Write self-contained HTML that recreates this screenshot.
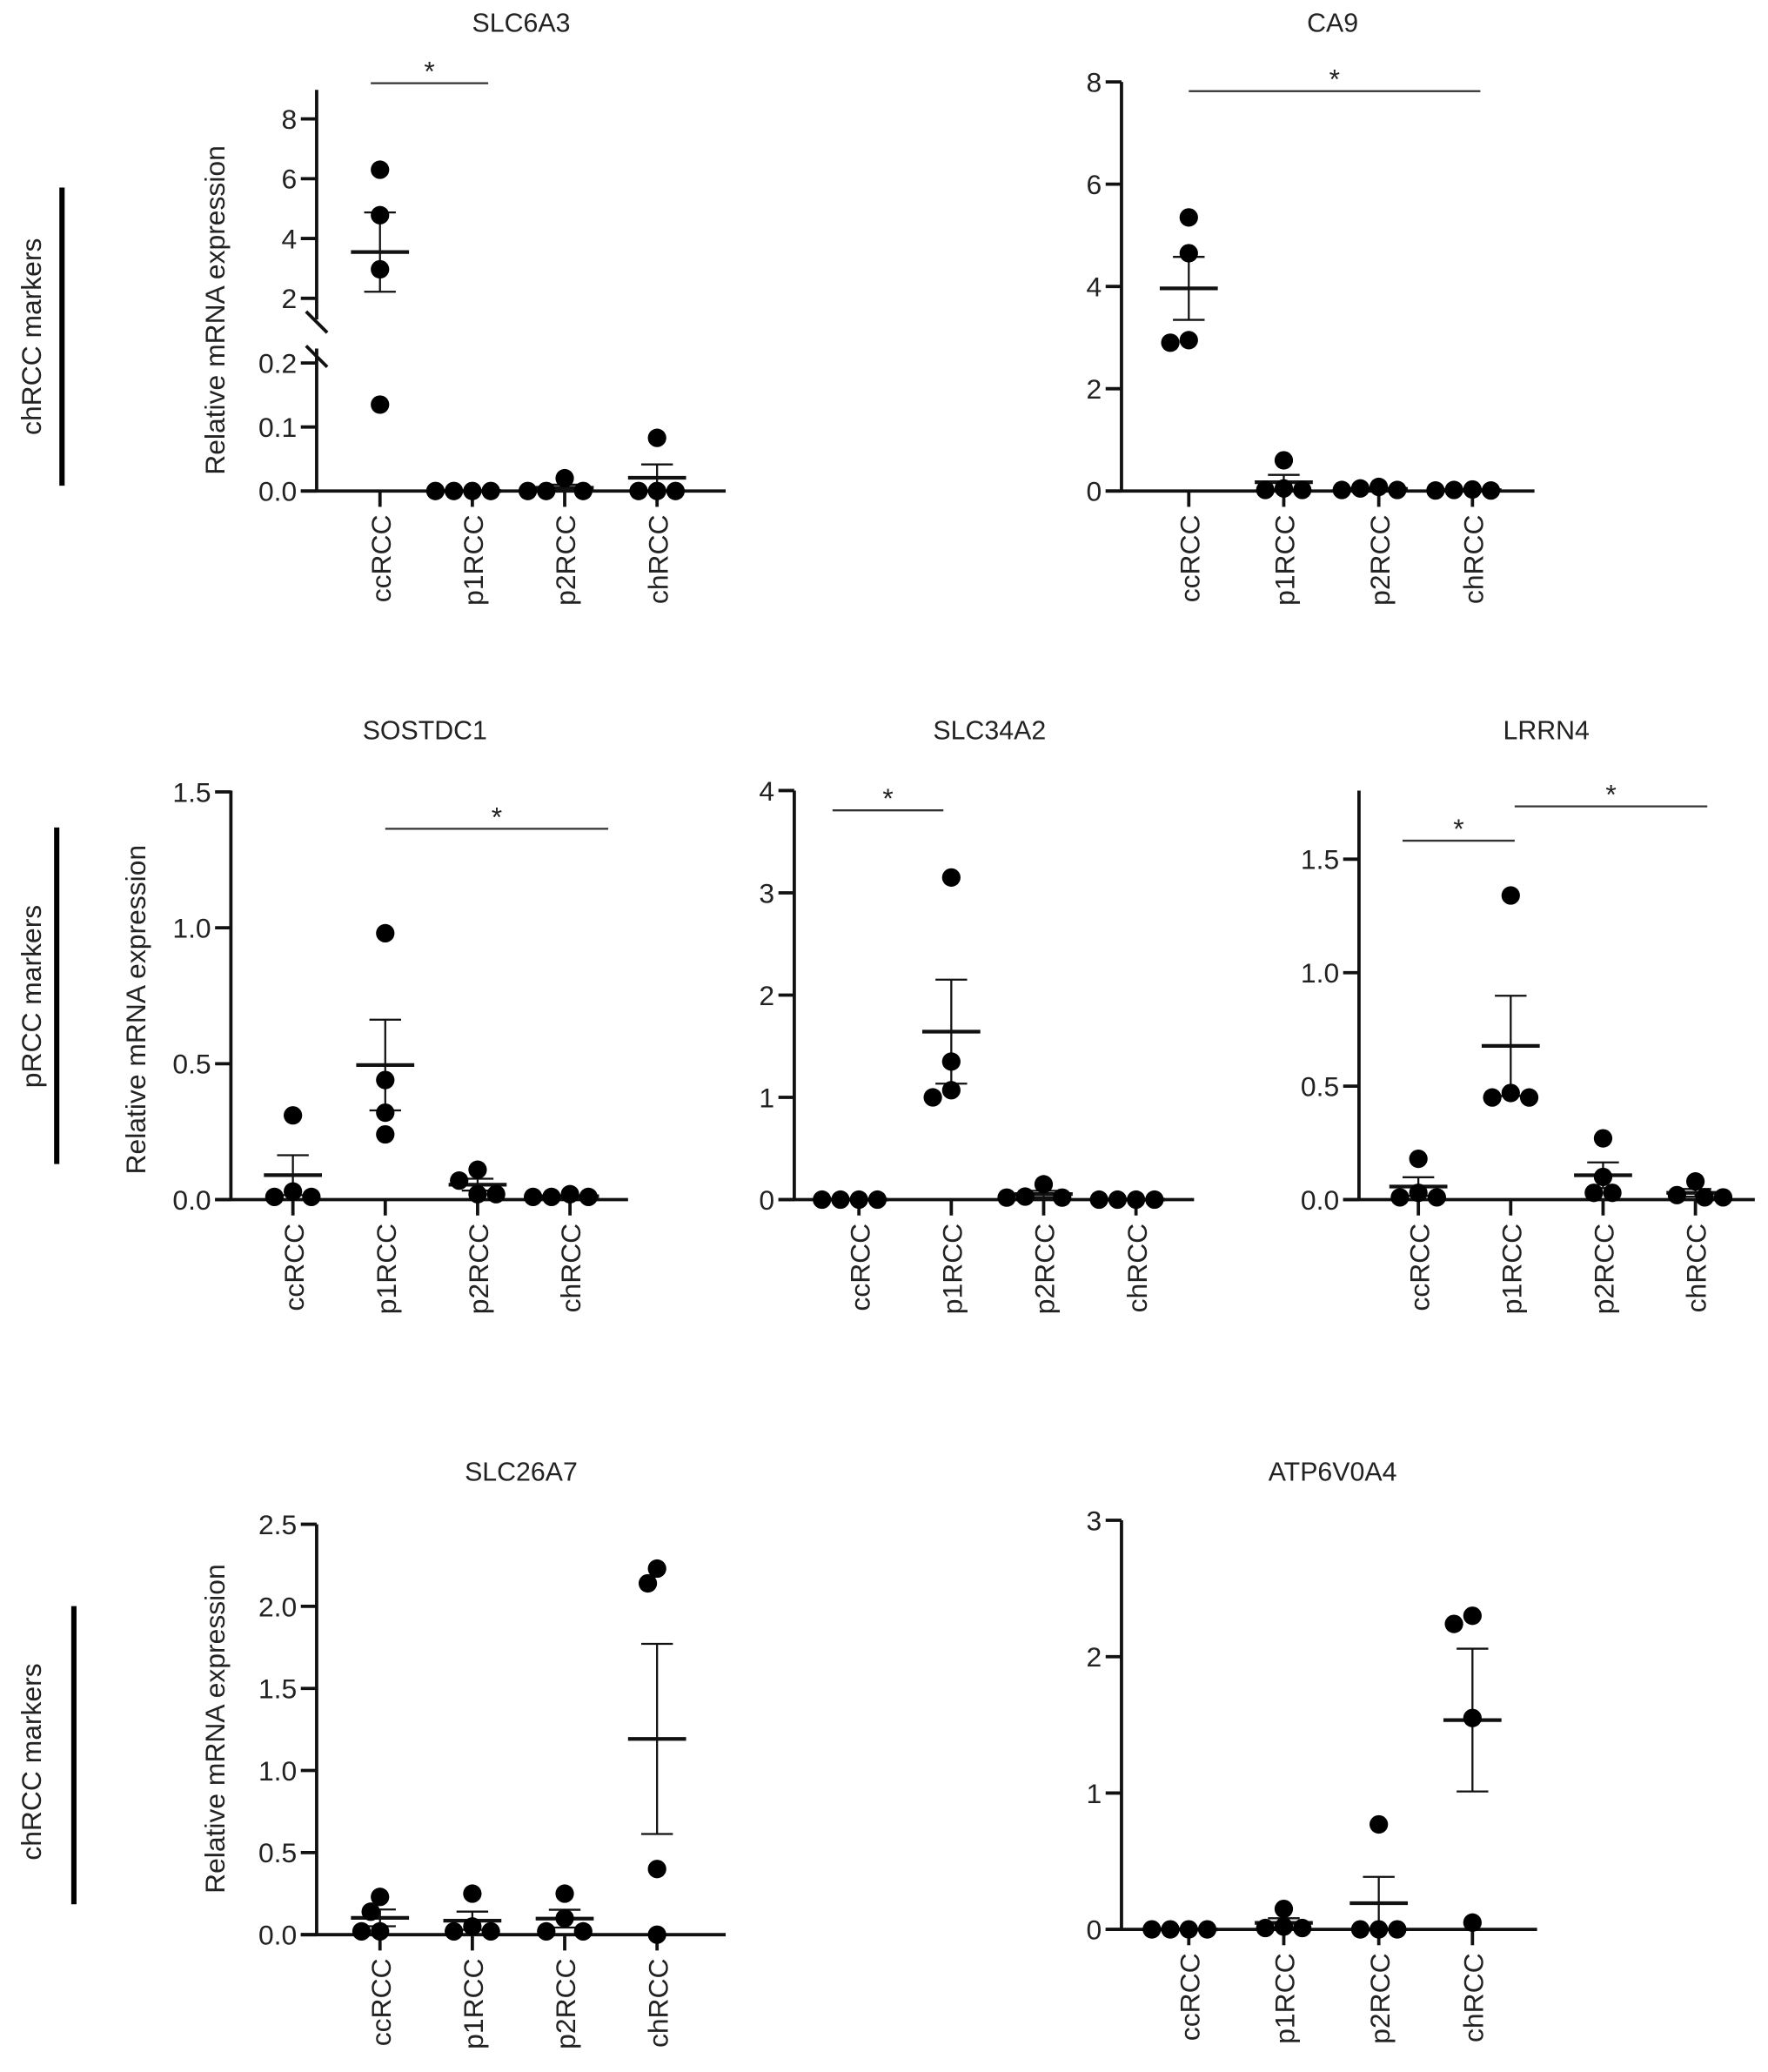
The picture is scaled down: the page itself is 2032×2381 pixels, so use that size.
<!DOCTYPE html>
<html><head><meta charset="utf-8"><style>
html,body{margin:0;padding:0;background:#fff}
svg{display:block}
text{font-family:"Liberation Sans",Arial,sans-serif;fill:#222}
</style></head><body>
<svg id="fig" width="2032" height="2381" viewBox="0 0 1340 1570" xmlns="http://www.w3.org/2000/svg"></svg>
<script>
const categories = ["ccRCC","p1RCC","p2RCC","chRCC"];
const slc6a3Vals = [[6.3,4.78,2.97,0.135],[0,0,0,0],[0.02,0,0,0],[0.083,0,0,0]];
const ca9Vals = [[5.35,4.65,2.9,2.95],[0.6,0.05,0.02,0.02],[0.08,0.05,0.02,0.02],[0.03,0.02,0.01,0.01]];
const sostdc1Vals = [[0.31,0.03,0.01,0.01],[0.98,0.44,0.32,0.24],[0.11,0.07,0.02,0.02],[0.02,0.01,0.01,0.01]];
const slc34a2Vals = [[0,0,0,0],[3.15,1.35,1.07,1.0],[0.15,0.03,0.02,0.02],[0,0,0,0]];
const lrrn4Vals = [[0.18,0.03,0.01,0.01],[1.34,0.47,0.45,0.45],[0.27,0.1,0.03,0.03],[0.08,0.02,0.01,0.01]];
const slc26a7Vals = [[0.23,0.14,0.02,0.02],[0.25,0.05,0.02,0.02],[0.25,0.1,0.02,0.02],[2.23,2.14,0.4,0.0]];
const atp6v0a4Vals = [[0,0,0,0],[0.15,0.02,0.01,0.01],[0.77,0,0,0],[2.3,2.24,1.55,0.05]];
const ca9Ticks = [0,2,4,6,8];
const sostdc1Ticks = [0,0.5,1.0,1.5];
const slc34a2Ticks = [0,1,2,3,4];
const lrrn4Ticks = [0,0.5,1.0,1.5];
const slc26a7Ticks = [0,0.5,1.0,1.5,2.0,2.5];
const atp6v0a4Ticks = [0,1,2,3];

const NS="http://www.w3.org/2000/svg";
const svg=document.getElementById('fig');
function el(tag,attrs,parent,txt){const e=document.createElementNS(NS,tag);for(const k in attrs)e.setAttribute(k,attrs[k]);if(txt!==undefined)e.textContent=txt;(parent||svg).appendChild(e);return e;}
function stats(a){const m=a.reduce((s,v)=>s+v,0)/a.length;const sd=Math.sqrt(a.reduce((s,v)=>s+(v-m)*(v-m),0)/(a.length-1));return[m,sd/Math.sqrt(a.length)];}
const FS=21;
function panel(o){
  const g=el('g',{});
  
  
  const t=el('text',{x:o.titleX,y:o.titleY,'font-size':20,'text-anchor':'middle'},g,o.title);
  
  
  const y=o.y;
  if(o.broken){
    el('line',{x1:o.ax,y1:o.top,x2:o.ax,y2:242,stroke:'#111','stroke-width':2.5},g);
    el('line',{x1:o.ax,y1:264,x2:o.ax,y2:o.base,stroke:'#111','stroke-width':2.5},g);
    el('line',{x1:o.ax-8,y1:236,x2:o.ax+8,y2:252,stroke:'#111','stroke-width':2.5},g);
    el('line',{x1:o.ax-8,y1:262,x2:o.ax+8,y2:278,stroke:'#111','stroke-width':2.5},g);
  } else {
    el('line',{x1:o.ax,y1:o.top,x2:o.ax,y2:o.base,stroke:'#111','stroke-width':2.5},g);
  }
  el('line',{x1:o.ax-12,y1:o.base,x2:o.xEnd,y2:o.base,stroke:'#111','stroke-width':2.5},g);
  o.ticks.forEach((v,i)=>{
    const yy=y(v);
    el('line',{x1:o.ax-12,y1:yy,x2:o.ax,y2:yy,stroke:'#111','stroke-width':2.5},g);
    const lb=el('text',{x:o.ax-15,y:yy+7.5,'font-size':FS,'text-anchor':'end'},g,o.tickLabels[i]);
    
    
  });
  if(o.ylabel){
    const yl=el('text',{transform:`translate(${o.ylabX},${o.ylabY}) rotate(-90)`,'font-size':FS,'text-anchor':'middle'},g,'Relative mRNA expression');
    
    
  }
  categories.forEach((c,i)=>{
    const cx=o.cats[i];
    el('line',{x1:cx,y1:o.base,x2:cx,y2:o.base+12,stroke:'#111','stroke-width':2.5},g);
    const xl=el('text',{transform:`translate(${cx+8},${o.base+18}) rotate(-90)`,'font-size':FS,'text-anchor':'end'},g,c);
    
    
    const vals=o.vals[i];
    const [m,se]=stats(vals);
    el('line',{x1:cx,y1:y(m+se),x2:cx,y2:y(Math.max(m-se,0)),stroke:'#111','stroke-width':1.5},g);
    el('line',{x1:cx-12,y1:y(m+se),x2:cx+12,y2:y(m+se),stroke:'#111','stroke-width':1.5},g);
    el('line',{x1:cx-12,y1:y(Math.max(m-se,0)),x2:cx+12,y2:y(Math.max(m-se,0)),stroke:'#111','stroke-width':1.5},g);
    el('line',{x1:cx-22,y1:y(m),x2:cx+22,y2:y(m),stroke:'#111','stroke-width':2.8},g);
    const placed=[];
    const order=vals.map((v,k)=>k).sort((a,b)=>vals[b]-vals[a]);
    order.forEach(k=>{
      const py=y(vals[k]);
      const cands=[0,-7,7,-14,14,-21,21,-28,28];
      let dx=0;
      for(const c of cands){ if(placed.every(p=>Math.hypot(p[0]-c,p[1]-py)>=13)){dx=c;break;} }
      placed.push([dx,py]);
      const pt=el('circle',{cx:cx+dx,cy:py,r:7,fill:'#000'},g);
      
      
    });
  });
  (o.sig||[]).forEach(s=>{
    el('line',{x1:s[0],y1:s[2],x2:s[1],y2:s[2],stroke:'#333','stroke-width':1.5},g);
    const st=el('text',{x:(s[0]+s[1])/2,y:s[2]-2,'font-size':21,'text-anchor':'middle'},g,'*');
    
    
  });
}
function lin(v0,p0,v1,p1){return v=>p0+(v-v0)*(p1-p0)/(v1-v0);}

const upper=lin(2,226,8,90), lower=lin(0,372,0.2,275);
panel({name:'slc6a3',title:'SLC6A3',titleX:395,titleY:24,ax:240,top:68,base:372,xEnd:550,broken:true,
  y:v=>v>=1?upper(v):lower(v),ticks:[0,0.1,0.2,2,4,6,8],tickLabels:['0.0','0.1','0.2','2','4','6','8'],
  ylabel:true,ylabX:170,ylabY:235,cats:[288,358,428,498],vals:slc6a3Vals,sig:[[281,370,63]]});
panel({name:'ca9',title:'CA9',titleX:1010,titleY:24,ax:850,top:62,base:372,xEnd:1163,
  y:lin(0,372,8,62),ticks:ca9Ticks,tickLabels:ca9Ticks.map(String),
  cats:[901,973,1045,1116],vals:ca9Vals,sig:[[901,1122,69]]});
panel({name:'sostdc1',title:'SOSTDC1',titleX:322,titleY:560,ax:175,top:599,base:909,xEnd:476,
  y:lin(0,909,1.5,600),ticks:sostdc1Ticks,tickLabels:sostdc1Ticks.map(v=>v.toFixed(1)),
  ylabel:true,ylabX:110,ylabY:765,cats:[222,292,362,432],vals:sostdc1Vals,sig:[[292,461,628]]});
panel({name:'slc34a2',title:'SLC34A2',titleX:750,titleY:560,ax:602,top:599,base:909,xEnd:905,
  y:lin(0,909,4,599),ticks:slc34a2Ticks,tickLabels:slc34a2Ticks.map(String),
  cats:[651,721,791,861],vals:slc34a2Vals,sig:[[631,715,614]]});
panel({name:'lrrn4',title:'LRRN4',titleX:1172,titleY:560,ax:1030,top:599,base:909,xEnd:1330,
  y:lin(0,909,1.5,651),ticks:lrrn4Ticks,tickLabels:lrrn4Ticks.map(v=>v.toFixed(1)),
  cats:[1075,1145,1215,1285],vals:lrrn4Vals,sig:[[1063,1148,637],[1148,1294,611]]});
panel({name:'slc26a7',title:'SLC26A7',titleX:395,titleY:1122,ax:240,top:1155,base:1466,xEnd:550,
  y:lin(0,1466,2.5,1155),ticks:slc26a7Ticks,tickLabels:slc26a7Ticks.map(v=>v.toFixed(1)),
  ylabel:true,ylabX:170,ylabY:1310,cats:[288,358,428,498],vals:slc26a7Vals});
panel({name:'atp6v0a4',title:'ATP6V0A4',titleX:1010,titleY:1122,ax:850,top:1152,base:1462,xEnd:1165,
  y:lin(0,1462,3,1152),ticks:atp6v0a4Ticks,tickLabels:atp6v0a4Ticks.map(String),
  cats:[901,973,1045,1116],vals:atp6v0a4Vals});

[['chrcc-markers-label-top','chRCC markers',31,255,47,142,368],
 ['prcc-markers-label','pRCC markers',31,755,43,627,882],
 ['chrcc-markers-label-bottom','chRCC markers',31,1335,56,1217,1443]].forEach(s=>{
  const t=el('text',{transform:`translate(${s[2]},${s[3]}) rotate(-90)`,'font-size':FS,'text-anchor':'middle'},svg,s[1]);
  
  
  const b=el('line',{x1:s[4],y1:s[5],x2:s[4],y2:s[6],stroke:'#000','stroke-width':4});
  
  
});
</script>
</body></html>
